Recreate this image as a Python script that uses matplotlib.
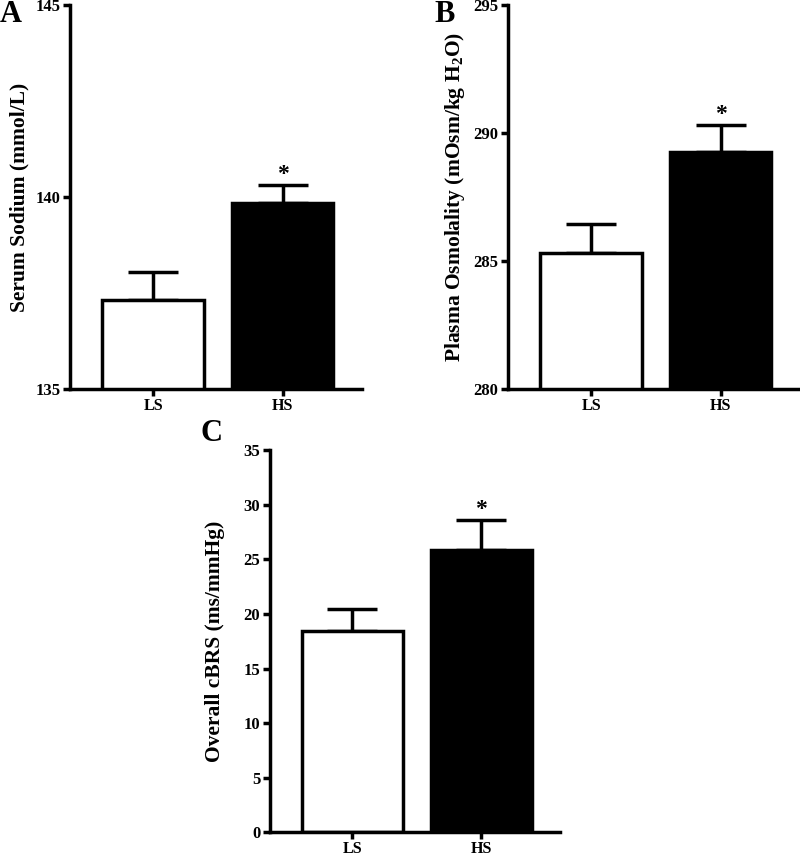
import numpy as np
import matplotlib
matplotlib.use("Agg")
import matplotlib.pyplot as plt

plt.rcParams['font.family'] = ['Liberation Serif', 'DejaVu Serif']
plt.rcParams['font.weight'] = 'bold'
plt.rcParams['mathtext.fontset'] = 'custom'
plt.rcParams['mathtext.rm'] = 'Liberation Serif:bold'
plt.rcParams['mathtext.bf'] = 'Liberation Serif:bold'

groups = ["LS", "HS"]
colors = ["white", "black"]

sodium_mean = [137.32, 139.84]
sodium_sem = [0.73, 0.47]

osmo_mean = [285.31, 289.26]
osmo_sem = [1.14, 1.05]

cbrs_mean = [18.45, 25.85]
cbrs_sem = [2.0, 2.72]

fig = plt.figure(figsize=(8, 8.59), dpi=100)

def panel(rect, means, sems, ylim, yticks, ylabel, letter, letter_pos, ylabel_x):
    ax = fig.add_axes(rect)
    x = np.arange(len(groups))
    ax.errorbar(x, means, yerr=[np.zeros(len(sems)), sems], fmt='none',
                ecolor='black', elinewidth=2.5, capsize=18, capthick=2.5, zorder=1)
    ax.bar(x, means, width=0.78, color=colors, edgecolor='black', linewidth=2.5,
           bottom=0, zorder=2)
    ax.set_ylim(*ylim)
    ax.set_xlim(-0.64, 1.61)
    ax.set_yticks(yticks)
    ax.set_xticks(x)
    ax.set_xticklabels(groups)
    for s in ['top', 'right']:
        ax.spines[s].set_visible(False)
    for s in ['left', 'bottom']:
        ax.spines[s].set_linewidth(2.5)
    ax.tick_params(width=2.5, length=5, labelsize=12, pad=2)
    ax.tick_params(axis='x', labelsize=11.5, pad=1.5)
    ax.set_ylabel(ylabel, fontsize=15.5, fontweight='bold')
    ax.yaxis.set_label_coords(ylabel_x, 0.5)
    # significance star over HS
    ax.text(1, means[1] + sems[1], '*', ha='center', va='bottom',
            fontsize=17, fontweight='bold')
    fig.text(letter_pos[0], letter_pos[1], letter, fontsize=22,
             fontweight='bold', ha='left', va='top')
    return ax

panel([0.0875, 0.5472, 0.365, 0.447], sodium_mean, sodium_sem,
      (135, 145), [135, 140, 145], "Serum Sodium (mmol/L)", "A",
      (0.0, 1.0), -0.14)

panel([0.635, 0.5472, 0.365, 0.447], osmo_mean, osmo_sem,
      (280, 295), [280, 285, 290, 295],
      r"Plasma Osmolality (mOsm/kg H$_{\mathbf{2}}$O)", "B",
      (0.543, 1.0), -0.14)

panel([0.3375, 0.031, 0.3625, 0.4451], cbrs_mean, cbrs_sem,
      (0, 35), [0, 5, 10, 15, 20, 25, 30, 35], "Overall cBRS (ms/mmHg)", "C",
      (0.25, 0.512), -0.155)

fig.savefig("out.png", dpi=100)
